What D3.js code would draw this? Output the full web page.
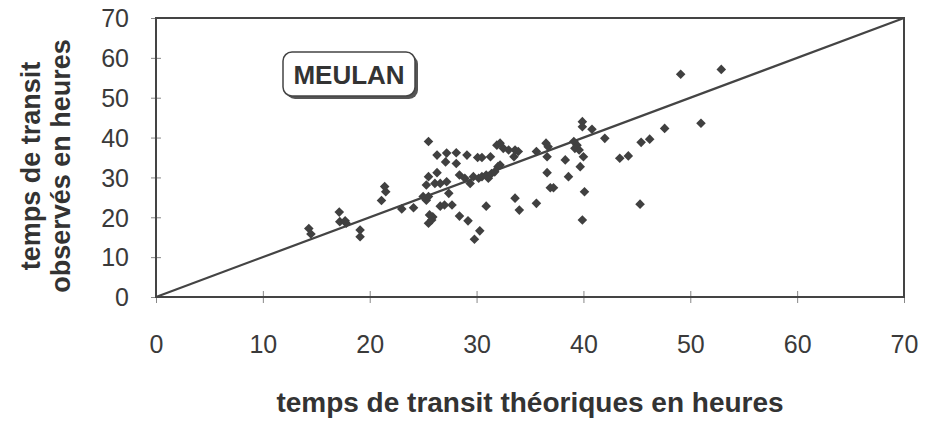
<!DOCTYPE html>
<html>
<head>
<meta charset="utf-8">
<script src="https://cdn.jsdelivr.net/npm/d3@7"></script>
<style>
  html, body { margin: 0; padding: 0; background: #fff; }
  svg { display: block; }
  text { font-family: "Liberation Sans", Arial, sans-serif; fill: #333; }
</style>
</head>
<body>
<svg id="chart" width="932" height="428"></svg>
<script>
// Transit times (hours): theoretical vs. observed, Meulan station
const theoretical = [
  14.3, 14.5, 17.15, 17.2, 17.7, 17.8, 19.1, 19.1, 21.1, 21.4,
  21.5, 23.0, 24.1, 25.5, 25.3, 25.5, 25.6, 25.8, 25.5, 25.9,
  26.3, 27.2, 28.1, 27.1, 28.1, 29.1, 30.1, 30.5, 31.3, 31.9,
  32.2, 32.5, 33.0, 33.6, 33.9, 33.5, 35.6, 36.5, 36.7, 36.6,
  38.3, 36.6, 38.6, 36.9, 37.2, 33.6, 34.0, 35.6, 39.1, 39.4,
  39.2, 39.6, 39.9, 39.9, 40.8, 42.0, 39.7, 40.0, 40.1, 39.9,
  43.4, 44.2, 45.4, 46.2, 47.6, 51.0, 49.1, 52.9, 45.3, 25.5,
  26.3, 25.3, 26.1, 26.6, 27.2, 27.4, 25.0, 26.6, 27.0, 27.7,
  28.4, 29.2, 30.3, 29.8, 30.9, 28.4, 28.9, 29.4, 29.7, 30.2,
  30.5, 30.9, 31.1, 31.4, 31.7, 32.0, 32.2
];
const observed = [
  17.2, 15.8, 21.3, 18.9, 19.1, 18.5, 16.8, 15.1, 24.2, 27.7,
  26.4, 22.1, 22.4, 39.0, 24.3, 25.2, 20.6, 19.3, 18.5, 20.1,
  35.6, 36.1, 36.2, 33.9, 33.5, 35.6, 35.0, 35.0, 35.2, 38.1,
  38.6, 37.3, 36.9, 36.9, 36.5, 35.2, 36.5, 38.6, 37.7, 35.2,
  34.4, 31.2, 30.2, 27.4, 27.4, 24.8, 21.8, 23.5, 39.0, 38.1,
  37.3, 36.9, 44.0, 42.7, 42.1, 39.8, 32.7, 35.2, 26.4, 19.3,
  34.8, 35.4, 38.8, 39.6, 42.3, 43.6, 55.9, 57.1, 23.3, 30.2,
  31.2, 28.1, 28.5, 28.5, 28.9, 26.0, 25.2, 22.8, 23.1, 23.1,
  20.3, 19.1, 16.6, 14.5, 22.8, 30.6, 29.8, 28.5, 30.2, 29.8,
  30.2, 30.6, 29.8, 31.0, 31.4, 32.7, 33.1
];
const xTicks = [0, 10, 20, 30, 40, 50, 60, 70];
const yTicks = [0, 10, 20, 30, 40, 50, 60, 70];
const stationName = "MEULAN";
const xTitle = "temps de transit théoriques en heures";
const yTitleLines = ["temps de transit", "observés en heures"];

const svg = d3.select("#chart");
const plot = { left: 156, right: 904, top: 18, bottom: 297 };

const x = d3.scaleLinear().domain([0, 70]).range([plot.left, plot.right]);
const y = d3.scaleLinear().domain([0, 70]).range([plot.bottom, plot.top]);

const ink = "#444";

// tick marks crossing the frame
const xAxis = d3.axisBottom(x).tickValues(xTicks).tickSize(6).tickFormat(d3.format("d"));
const gx = svg.append("g").attr("transform", `translate(0,${plot.bottom})`).call(xAxis);
gx.select(".domain").remove();
gx.selectAll(".tick line").attr("y1", -6).attr("stroke", "#888").attr("stroke-width", 1);
gx.selectAll(".tick text")
  .attr("y", 56).attr("dy", 0)
  .style("font-size", "25px").style("fill", "#3a3a3a")
  .attr("font-family", "Liberation Sans, Arial, sans-serif");

const yAxis = d3.axisLeft(y).tickValues(yTicks).tickSize(5).tickFormat(d3.format("d"));
const gy = svg.append("g").attr("transform", `translate(${plot.left},0)`).call(yAxis);
gy.select(".domain").remove();
gy.selectAll(".tick line").attr("x1", 5).attr("stroke", "#888").attr("stroke-width", 1);
gy.selectAll(".tick text")
  .attr("x", -27).attr("dy", "0.35em")
  .style("font-size", "25px").style("fill", "#3a3a3a")
  .attr("font-family", "Liberation Sans, Arial, sans-serif");

// plot frame
svg.append("rect")
  .attr("x", plot.left).attr("y", plot.top)
  .attr("width", plot.right - plot.left).attr("height", plot.bottom - plot.top)
  .attr("fill", "none").attr("stroke", ink).attr("stroke-width", 2);

// 1:1 reference line
svg.append("line")
  .attr("x1", x(0)).attr("y1", y(0))
  .attr("x2", x(70)).attr("y2", y(70))
  .attr("stroke", ink).attr("stroke-width", 2.2);

// observations as diamonds
const diamond = d3.symbol().type(d3.symbolSquare).size(46);
svg.append("g").selectAll("path")
  .data(theoretical.map((t, i) => [t, observed[i]]))
  .join("path")
  .attr("d", diamond)
  .attr("transform", d => `translate(${x(d[0])},${y(d[1])}) rotate(45)`)
  .attr("fill", "#404040");

// station label box with drop shadow
const box = { x: 283, y: 52, w: 132, h: 44 };
svg.append("rect")
  .attr("x", box.x + 3).attr("y", box.y + 3).attr("width", box.w).attr("height", box.h)
  .attr("rx", 9).attr("fill", "#555");
svg.append("rect")
  .attr("x", box.x).attr("y", box.y).attr("width", box.w).attr("height", box.h)
  .attr("rx", 9).attr("fill", "#fff").attr("stroke", ink).attr("stroke-width", 1.5);
svg.append("text")
  .attr("x", box.x + box.w / 2).attr("y", box.y + 32)
  .attr("text-anchor", "middle")
  .style("font-size", "26px").style("font-weight", "bold")
  .text(stationName);

// axis titles
svg.append("text")
  .attr("x", 530).attr("y", 412)
  .attr("text-anchor", "middle")
  .style("font-size", "28px").style("font-weight", "bold")
  .text(xTitle);

const yTitle = svg.append("text")
  .attr("transform", "translate(0,166) rotate(-90)")
  .attr("text-anchor", "middle")
  .style("font-size", "27px").style("font-weight", "bold");
yTitle.selectAll("tspan")
  .data(yTitleLines)
  .join("tspan")
  .attr("x", 0)
  .attr("y", (d, i) => 40 + i * 30)
  .text(d => d);
</script>
</body>
</html>
